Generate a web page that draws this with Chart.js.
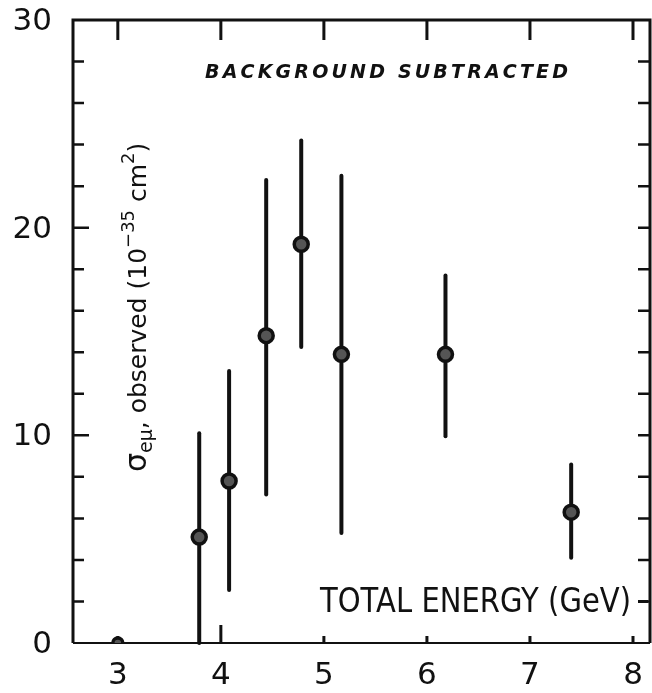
<!DOCTYPE html>
<html>
<head>
<meta charset="utf-8">
<script src="https://cdn.jsdelivr.net/npm/chart.js@4/dist/chart.umd.min.js"></script>
<style>
  html, body { margin: 0; padding: 0; background: #fff; }
</style>
</head>
<body>
<canvas id="chart" width="652" height="693"></canvas>
<script>
// e-mu events per energy bin, background subtracted
const energy   = [3.0, 3.79, 4.08, 4.44, 4.78, 5.17, 6.18, 7.40];
const sigma    = [0.0, 5.1, 7.8, 14.8, 19.2, 13.9, 13.9, 6.3];
const errLow   = [null, 0.0, 2.55, 7.15, 14.25, 5.3, 9.95, 4.1];
const errHigh  = [null, 10.1, 13.1, 22.3, 24.2, 22.5, 17.7, 8.6];

const xTicks = [3, 4, 5, 6, 7, 8];
const yTicks = [0, 10, 20, 30];
const yMinorTicks = [2, 4, 6, 8, 12, 14, 16, 18, 22, 24, 26, 28];

const INK = '#111';
const FONT = '"DejaVu Sans"';

// frame, inward ticks, tick labels and error bars
const framePlugin = {
  id: 'frame',
  beforeDatasetsDraw(chart) {
    const { ctx, chartArea: a, scales: { x, y } } = chart;
    ctx.save();
    ctx.strokeStyle = INK;
    ctx.lineCap = 'round';

    // error bars
    ctx.lineWidth = 4;
    energy.forEach((e, i) => {
      if (errLow[i] === null) return;
      const px = x.getPixelForValue(e);
      ctx.beginPath();
      ctx.moveTo(px, y.getPixelForValue(errLow[i]));
      ctx.lineTo(px, y.getPixelForValue(errHigh[i]));
      ctx.stroke();
    });

    // box
    ctx.lineCap = 'butt';
    ctx.lineWidth = 3;
    ctx.beginPath();
    ctx.moveTo(a.left, a.bottom);
    ctx.lineTo(a.left, a.top);
    ctx.lineTo(a.right, a.top);
    ctx.lineTo(a.right, a.bottom);
    ctx.stroke();
    ctx.lineWidth = 2;
    ctx.beginPath();
    ctx.moveTo(a.left, a.bottom);
    ctx.lineTo(a.right, a.bottom);
    ctx.stroke();

    // x ticks: long on top, short on bottom
    ctx.lineWidth = 3;
    xTicks.forEach(v => {
      const px = x.getPixelForValue(v);
      ctx.beginPath();
      ctx.moveTo(px, a.top);
      ctx.lineTo(px, a.top + 20);
      ctx.moveTo(px, a.bottom);
      ctx.lineTo(px, a.bottom - (v === 4 ? 18 : 7));
      ctx.stroke();
    });

    // y ticks on both sides
    ctx.lineWidth = 2.5;
    yMinorTicks.concat([10, 20]).forEach(v => {
      const py = y.getPixelForValue(v);
      const len = (v % 10 === 0) ? 16 : 11;
      ctx.beginPath();
      ctx.moveTo(a.left, py);
      ctx.lineTo(a.left + len, py);
      ctx.moveTo(a.right, py);
      ctx.lineTo(a.right - 12, py);
      ctx.stroke();
    });

    // tick labels
    ctx.fillStyle = INK;
    ctx.font = '31px ' + FONT;
    ctx.textAlign = 'center';
    ctx.textBaseline = 'middle';
    xTicks.forEach(v => ctx.fillText(String(v), x.getPixelForValue(v), 676));
    ctx.textAlign = 'right';
    yTicks.forEach(v => ctx.fillText(String(v), 52, y.getPixelForValue(v) + 2));
    ctx.restore();
  },
  afterDraw(chart) {
    const { ctx } = chart;
    ctx.save();
    ctx.fillStyle = INK;
    ctx.textBaseline = 'alphabetic';

    // spaced bold italic caption
    const cap = 'BACKGROUND SUBTRACTED';
    ctx.font = 'italic bold 19px ' + FONT;
    const x0 = 205, x1 = 568;
    const widths = [...cap].map(c => ctx.measureText(c).width);
    const total = widths.reduce((s, w) => s + w, 0);
    const gap = (x1 - x0 - total) / (cap.length - 1);
    let cx = x0;
    [...cap].forEach((c, i) => {
      ctx.fillText(c, cx, 78);
      cx += widths[i] + gap;
    });

    // axis name placed inside the frame, condensed
    ctx.font = '33px ' + FONT;
    const xname = 'TOTAL ENERGY (GeV)';
    const wx = ctx.measureText(xname).width;
    ctx.save();
    ctx.translate(320, 612);
    ctx.scale(311 / wx, 1);
    ctx.fillText(xname, 0, 0);
    ctx.restore();
    ctx.fillRect(638, 600, 10, 3);

    // rotated y title with sub/superscripts
    const parts = [
      { t: 'σ', size: 30, dy: 0 },
      { t: 'eμ', size: 19, dy: 6 },
      { t: ', observed (10', size: 25, dy: 0 },
      { t: '−35', size: 18, dy: -12 },
      { t: ' cm', size: 25, dy: 0 },
      { t: '2', size: 18, dy: -12 },
      { t: ')', size: 25, dy: 0 }
    ];
    ctx.save();
    ctx.translate(146, 472);
    ctx.rotate(-Math.PI / 2);
    let tx = 0;
    parts.forEach(p => {
      ctx.font = p.size + 'px ' + FONT;
      ctx.fillText(p.t, tx, p.dy);
      tx += ctx.measureText(p.t).width;
    });
    ctx.restore();
    ctx.restore();
  }
};

new Chart(document.getElementById('chart'), {
  type: 'scatter',
  data: {
    datasets: [{
      data: energy.map((e, i) => ({ x: e, y: sigma[i] })),
      pointRadius: energy.map((e, i) => errLow[i] === null ? 5 : 7),
      pointBorderWidth: 3.5,
      pointBorderColor: INK,
      pointBackgroundColor: '#555'
    }]
  },
  options: {
    responsive: false,
    animation: false,
    devicePixelRatio: 1,
    layout: { autoPadding: false, padding: { top: 20, right: 2, left: 0, bottom: 0 } },
    plugins: { legend: { display: false }, tooltip: { enabled: false } },
    scales: {
      x: {
        type: 'linear',
        min: 2.565,
        max: 8.165,
        afterBuildTicks: s => { s.ticks = xTicks.map(v => ({ value: v })); },
        afterFit: s => { s.height = 50; },
        grid: { display: false },
        border: { display: false },
        ticks: { display: false }
      },
      y: {
        min: 0,
        max: 30,
        afterBuildTicks: s => { s.ticks = yTicks.map(v => ({ value: v })); },
        afterFit: s => { s.width = 73; },
        grid: { display: false },
        border: { display: false },
        ticks: { display: false }
      }
    }
  },
  plugins: [framePlugin]
});
</script>
</body>
</html>
